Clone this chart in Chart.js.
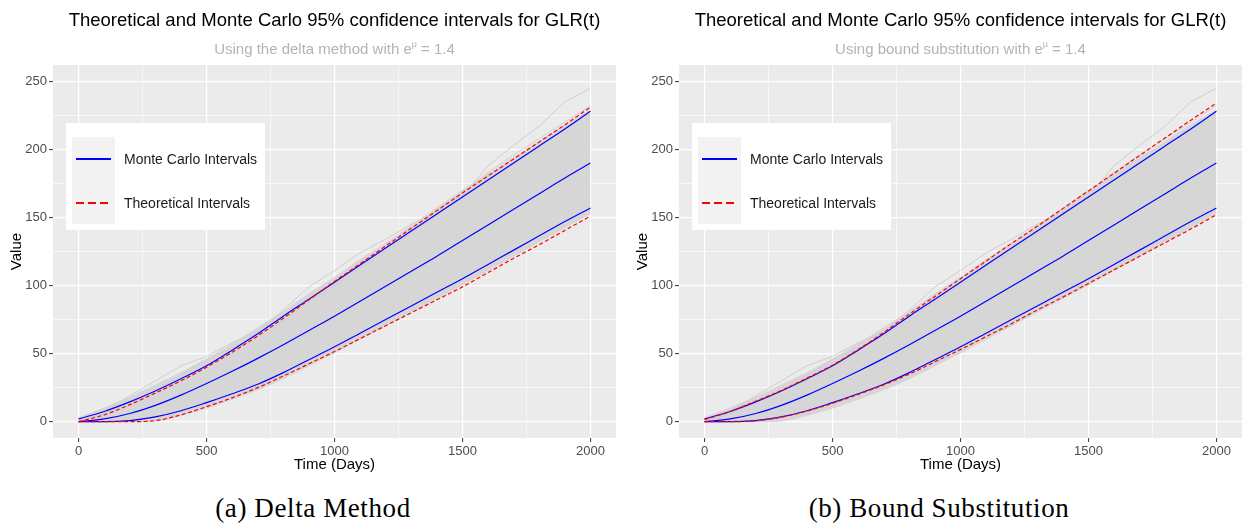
<!DOCTYPE html>
<html>
<head>
<meta charset="utf-8">
<script src="https://cdn.jsdelivr.net/npm/chart.js@4.4.1/dist/chart.umd.min.js"></script>
<style>
  body { margin: 0; background: #fff; width: 1243px; height: 525px; position: relative; overflow: hidden; }
  .panel { position: absolute; top: 0; height: 478px; }
  .caption { position: absolute; top: 493px; width: 400px; text-align: center; letter-spacing: 0.6px;
             font: 27px "Liberation Serif", "DejaVu Serif", serif; color: #000; }
</style>
</head>
<body>
<div class="panel" style="left:0;width:622px"><canvas id="delta"></canvas></div>
<div class="panel" style="left:622px;width:621px"><canvas id="bound"></canvas></div>
<div class="caption" style="left:113px">(a) Delta Method</div>
<div class="caption" style="left:739px">(b) Bound Substitution</div>

<script>
// time grid (days)
const days = [0, 100, 200, 300, 400, 500, 600, 700, 800, 900, 1000,
              1100, 1200, 1300, 1400, 1500, 1600, 1700, 1800, 1900, 2000];

// Monte Carlo 95% band and mean from the simulated GLR paths
const mcUpper = [2, 7.5, 14.5, 22.5, 31.5, 41, 52.5, 64.5, 77.5, 90, 102.5,
                 115, 127.5, 140, 152.5, 165, 177.5, 190, 202.5, 215, 228];
const mcMean  = [0, 2, 6, 12, 19.5, 28, 37, 46.5, 56.5, 67, 77.5,
                 88.5, 99.5, 110.5, 121.5, 133, 144.5, 156, 167.5, 179, 190];
const mcLower = [0, 0, 0.8, 3.5, 8, 14, 20.5, 27.5, 36, 45.5, 55,
                 65, 75, 85, 95, 105, 115.5, 126, 136.5, 147, 157];

// theoretical intervals, delta method
const thUpperDelta = [0, 5, 12.5, 21, 30, 40, 51, 63, 76, 89.5, 103,
                      116, 129, 142, 155, 168, 180.5, 193, 205.5, 218, 231];
const thLowerDelta = [0, 0, 0, 0.8, 5, 11, 17.5, 25, 33.5, 42.5, 51.5,
                      61, 70.5, 80, 89.5, 99, 109.5, 120, 130, 140.5, 151];

// theoretical intervals, bound substitution
const thUpperBound = [1.5, 7.5, 15, 23, 32, 41.5, 53, 65.5, 79, 92, 105,
                      118, 131, 143.5, 156.5, 169.5, 182.5, 195.5, 208.5, 221.5, 234];
const thLowerBound = [0, 0, 0.7, 3.3, 7.8, 13.5, 20, 27, 35, 44, 53,
                      62.5, 72, 82, 91.5, 101.5, 111.5, 121.5, 131.5, 141.5, 152];

// extent of the bulk of simulated paths
const cloudTop    = [3, 10, 18, 27, 36, 46, 57, 69, 81, 94, 106,
                     119, 131, 144, 157, 170, 182, 194, 206, 218, 229];
const cloudBottom = [0, 0, 0, 0.5, 4.5, 10, 16.5, 23.5, 31.5, 41, 50.5,
                     60.5, 70.5, 80.5, 90.5, 100.5, 111, 121.5, 132, 142.5, 153];

// a couple of extreme paths above the band
const pathHigh1 = [0, 8, 19, 30, 41, 48, 58, 66, 82, 99, 111,
                   124, 134, 145, 154, 165, 188, 203, 217, 235, 245];
const pathHigh2 = [0, 6, 14, 23, 34, 46, 54, 63, 74, 88, 100,
                   113, 125, 138, 152, 168, 183, 196, 208, 220, 232];

const xTicks = [0, 250, 500, 750, 1000, 1250, 1500, 1750, 2000];
const yTicks = [0, 25, 50, 75, 100, 125, 150, 175, 200, 225, 250];

const TITLE = 'Theoretical and Monte Carlo 95% confidence intervals for GLR(t)';
const SANS = '"Liberation Sans", Arial, sans-serif';
Chart.defaults.font.family = SANS;

const pts = arr => days.map((d, i) => ({ x: d, y: arr[i] }));

// panel background, titles and the inset legend
const panelDecor = {
  id: 'panelDecor',
  beforeDraw(chart) {
    const { ctx, chartArea: a } = chart;
    ctx.save();
    ctx.fillStyle = '#ebebeb';
    ctx.fillRect(a.left, a.top, a.width, a.height);
    ctx.restore();
  },
  afterDraw(chart, args, opts) {
    const { ctx, chartArea: a } = chart;
    const cx = (a.left + a.right) / 2;
    ctx.save();
    ctx.fillStyle = '#000';
    ctx.font = '18.5px ' + SANS;
    ctx.textAlign = 'center';
    ctx.textBaseline = 'middle';
    ctx.fillText(TITLE, cx, 21);

    // subtitle with e^mu
    const big = '15px ' + SANS, small = '9px ' + SANS;
    const tail = ' = 1.4';
    ctx.font = big;
    const w1 = ctx.measureText(opts.subtitle).width;
    const w3 = ctx.measureText(tail).width;
    ctx.font = small;
    const w2 = ctx.measureText('\u03bc').width;
    let x = cx - (w1 + w2 + w3) / 2;
    ctx.textAlign = 'left';
    ctx.textBaseline = 'alphabetic';
    ctx.fillStyle = '#b3b3b3';
    ctx.font = big;
    ctx.fillText(opts.subtitle, x, 54);
    ctx.font = small;
    ctx.fillText('\u03bc', x + w1, 47);
    ctx.font = big;
    ctx.fillText(tail, x + w1 + w2, 54);

    // legend
    const lx = a.left + 13, ly = a.top + 58;
    ctx.fillStyle = '#ffffff';
    ctx.fillRect(lx, ly, 199, 107);
    ctx.fillStyle = '#f2f2f2';
    ctx.fillRect(lx + 6, ly + 14, 43, 87);
    ctx.lineWidth = 2;
    ctx.strokeStyle = '#0000ff';
    ctx.beginPath();
    ctx.moveTo(lx + 10, ly + 36); ctx.lineTo(lx + 45, ly + 36);
    ctx.stroke();
    ctx.strokeStyle = '#ff0000';
    ctx.setLineDash([8, 4]);
    ctx.beginPath();
    ctx.moveTo(lx + 10, ly + 80); ctx.lineTo(lx + 45, ly + 80);
    ctx.stroke();
    ctx.setLineDash([]);
    ctx.fillStyle = '#1a1a1a';
    ctx.font = '14px ' + SANS;
    ctx.textBaseline = 'middle';
    ctx.fillText('Monte Carlo Intervals', lx + 58, ly + 37);
    ctx.fillText('Theoretical Intervals', lx + 58, ly + 81);
    ctx.restore();
  }
};

function redLine(arr) {
  return { data: pts(arr), borderColor: '#ff0000', borderWidth: 1.2, borderDash: [4, 2.5],
           pointRadius: 0, fill: false, cubicInterpolationMode: 'monotone' };
}
function blueLine(arr) {
  return { data: pts(arr), borderColor: '#0000ff', borderWidth: 1.2,
           pointRadius: 0, fill: false, cubicInterpolationMode: 'monotone' };
}
function greyLine(arr) {
  return { data: pts(arr), borderColor: '#cfcfcf', borderWidth: 1,
           pointRadius: 0, fill: false, tension: 0 };
}

function buildChart(id, subtitle, thUpper, thLower, axisWidth, padRight) {
  const gridWidth = (major) => major ? 1.2 : 0.6;
  return new Chart(document.getElementById(id), {
    type: 'line',
    data: {
      datasets: [
        redLine(thUpper),
        redLine(thLower),
        blueLine(mcUpper),
        blueLine(mcMean),
        blueLine(mcLower),
        greyLine(pathHigh1),
        greyLine(pathHigh2),
        { data: pts(cloudTop), borderColor: '#d6d6d6', borderWidth: 1, backgroundColor: '#d6d6d6',
          pointRadius: 0, fill: '+1', cubicInterpolationMode: 'monotone' },
        { data: pts(cloudBottom), borderColor: '#d6d6d6', borderWidth: 1,
          pointRadius: 0, fill: false, cubicInterpolationMode: 'monotone' }
      ]
    },
    options: {
      responsive: true,
      maintainAspectRatio: false,
      animation: false,
      layout: { padding: { left: 0, right: padRight, top: 65, bottom: 0 } },
      plugins: {
        legend: { display: false },
        tooltip: { enabled: false },
        panelDecor: { subtitle }
      },
      scales: {
        x: {
          type: 'linear', min: -100, max: 2100,
          afterBuildTicks: s => { s.ticks = xTicks.map(v => ({ value: v })); },
          afterFit: s => { s.height = 40; },
          border: { display: false },
          grid: {
            color: '#ffffff',
            lineWidth: c => gridWidth(c.tick && c.tick.value % 500 === 0),
            tickLength: 4,
            tickColor: c => (c.tick && c.tick.value % 500 === 0) ? '#333333' : 'rgba(0,0,0,0)',
            tickWidth: 1
          },
          ticks: {
            color: '#4d4d4d', font: { size: 13 }, padding: 2, maxRotation: 0, autoSkip: false,
            callback: v => v % 500 === 0 ? String(v) : ''
          },
          title: { display: true, text: 'Time (Days)', color: '#000', font: { size: 15 },
                   padding: { top: 0, bottom: 4 } }
        },
        y: {
          type: 'linear', min: -12, max: 262,
          afterBuildTicks: s => { s.ticks = yTicks.map(v => ({ value: v })); },
          afterFit: s => { s.width = axisWidth; },
          border: { display: false },
          grid: {
            color: '#ffffff',
            lineWidth: c => gridWidth(c.tick && c.tick.value % 50 === 0),
            tickLength: 4,
            tickColor: c => (c.tick && c.tick.value % 50 === 0) ? '#333333' : 'rgba(0,0,0,0)',
            tickWidth: 1
          },
          ticks: {
            color: '#4d4d4d', font: { size: 13 }, padding: 2, autoSkip: false,
            callback: v => v % 50 === 0 ? String(v) : ''
          },
          title: { display: true, text: 'Value', color: '#000', font: { size: 15 },
                   padding: { top: axisWidth - 45, bottom: 0 } }
        }
      }
    },
    plugins: [panelDecor]
  });
}

buildChart('delta', 'Using the delta method with e', thUpperDelta, thLowerDelta, 53, 6);
buildChart('bound', 'Using bound substitution with e', thUpperBound, thLowerBound, 57, 1);
</script>
</body>
</html>
